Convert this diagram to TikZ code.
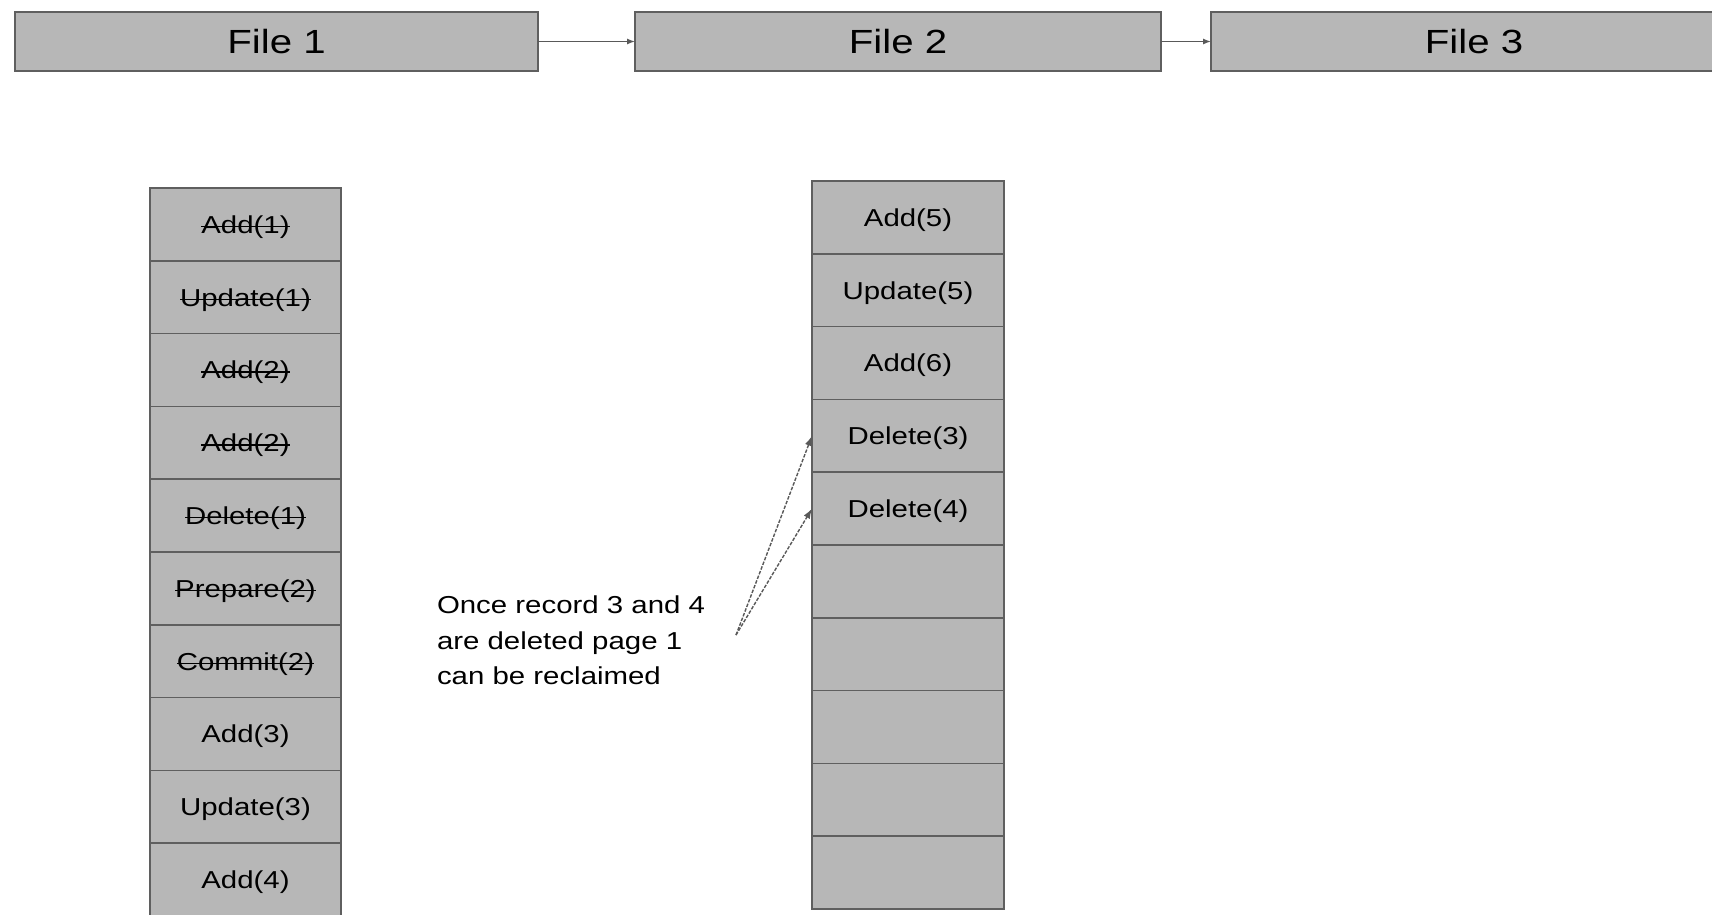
\documentclass[tikz,border=0pt]{standalone}
\usepackage{fontspec}
\setmainfont{Liberation Sans}[FakeStretch=1.2]
\usetikzlibrary{positioning,arrows.meta}
\newsavebox{\strikebox}
\newcommand{\struck}[1]{\sbox{\strikebox}{#1}\rlap{\rule[0.25em]{\wd\strikebox}{1.4pt}}\usebox{\strikebox}}
\definecolor{boxfill}{HTML}{B7B7B7}
\definecolor{boxline}{HTML}{5F5F5F}
\definecolor{linkline}{HTML}{595959}
\tikzstyle{every node}=[outer sep=0pt,inner sep=0pt]
\tikzstyle{file}=[draw=boxline,fill=boxfill,line width=1.5pt,minimum height=59pt,text depth=0pt,font=\fontsize{33.5}{40}\selectfont]
\tikzstyle{entry}=[draw=boxline,fill=boxfill,line width=1.5pt,minimum width=191pt,minimum height=72.8pt,text depth=0pt,font=\fontsize{24.5}{29}\selectfont]
\tikzstyle{note}=[align=left,anchor=north west,font=\fontsize{24.5}{35.5}\selectfont]
\tikzstyle{link}=[draw=linkline,line width=1.2pt,-{Latex[length=8pt,width=6pt]}]
\tikzstyle{pointer}=[link,line width=1.4pt,dashed,dash pattern=on 3.5pt off 1.5pt,-{Latex[length=10pt,width=7pt]}]

\begin{document}
\begin{tikzpicture}[x=1pt,y=-1pt]
	\clip (0,0) rectangle (1712,914);
	\fill[white] (0,0) rectangle (1712,914);

	% files
	\node [file,minimum width=523pt] (f1) at (276.5,41.5) {File 1};
	\node [file,minimum width=526pt] (f2) at (898,41.5) {File 2};
	\node [file,minimum width=526pt] (f3) at (1474,41.5) {File 3};
	\draw [link] (f1) -- (f2);
	\draw [link] (f2) -- (f3);

	% page of file 1
	\node [entry,anchor=north] (l1) at (245.5,188) {\struck{Add(1)}};
	\node [entry,below=0pt of l1] (l2) {\struck{Update(1)}};
	\node [entry,below=0pt of l2] (l3) {\struck{Add(2)}};
	\node [entry,below=0pt of l3] (l4) {\struck{Add(2)}};
	\node [entry,below=0pt of l4] (l5) {\struck{Delete(1)}};
	\node [entry,below=0pt of l5] (l6) {\struck{Prepare(2)}};
	\node [entry,below=0pt of l6] (l7) {\struck{Commit(2)}};
	\node [entry,below=0pt of l7] (l8) {Add(3)};
	\node [entry,below=0pt of l8] (l9) {Update(3)};
	\node [entry,below=0pt of l9] (l10) {Add(4)};

	% page of file 2
	\node [entry,minimum width=192pt,anchor=north] (r1) at (908,181) {Add(5)};
	\node [entry,minimum width=192pt,below=0pt of r1] (r2) {Update(5)};
	\node [entry,minimum width=192pt,below=0pt of r2] (r3) {Add(6)};
	\node [entry,minimum width=192pt,below=0pt of r3] (r4) {Delete(3)};
	\node [entry,minimum width=192pt,below=0pt of r4] (r5) {Delete(4)};
	\node [entry,minimum width=192pt,below=0pt of r5] (r6) {};
	\node [entry,minimum width=192pt,below=0pt of r6] (r7) {};
	\node [entry,minimum width=192pt,below=0pt of r7] (r8) {};
	\node [entry,minimum width=192pt,below=0pt of r8] (r9) {};
	\node [entry,minimum width=192pt,below=0pt of r9] (r10) {};

	% remark
	\node [note] (remark) at (437,596) {Once record 3 and 4\\are deleted page 1\\can be reclaimed};
	\coordinate (tail) at (736,635);
	\draw [pointer] (tail) -- (r4.west);
	\draw [pointer] (tail) -- (r5.west);
\end{tikzpicture}
\end{document}
